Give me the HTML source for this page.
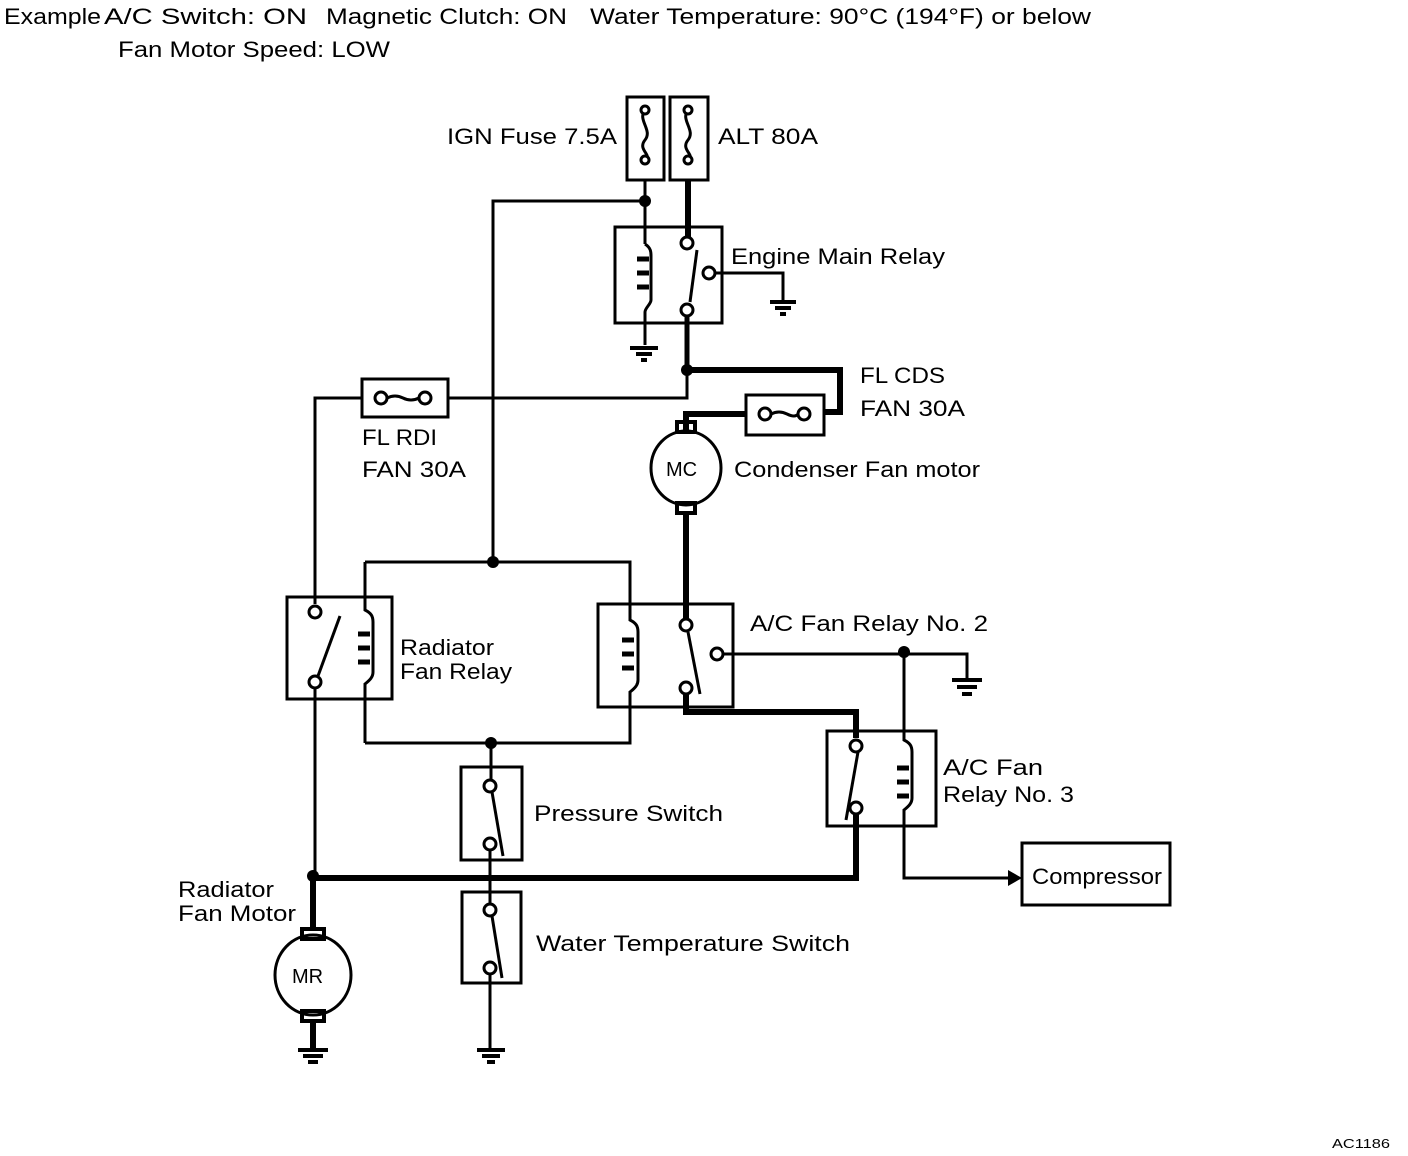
<!DOCTYPE html>
<html><head><style>
html,body{margin:0;padding:0;background:#fff;}
svg{display:block;}
text{font-family:"Liberation Sans",sans-serif;font-size:22px;fill:#000;}
</style></head><body>
<svg width="1408" height="1156" viewBox="0 0 1408 1156" xmlns="http://www.w3.org/2000/svg">
<g fill="none" stroke="#000" stroke-width="3">
<rect x="627" y="97" width="37" height="83"/>
<rect x="670" y="97" width="38" height="83"/>
<path d="M645 110 c-8 10 8 20 0 30 c-8 10 8 15 0 20"/>
<path d="M688 110 c-8 10 8 20 0 30 c-8 10 8 15 0 20"/>
<circle cx="645" cy="110" r="4" fill="#fff"/><circle cx="645" cy="160" r="4" fill="#fff"/>
<circle cx="688" cy="110" r="4" fill="#fff"/><circle cx="688" cy="160" r="4" fill="#fff"/>
<path d="M645 180 V244"/>
<path d="M645 201 H493 V562"/>
<path d="M688 180 V243" stroke-width="6"/>
<rect x="615" y="227" width="107" height="96"/>
<path d="M645 244 c6 4 6 8 6 12 v44 c0 4 -6 8 -6 12 V345"/>
<path d="M637 259 h12 M637 273 h12 M637 287 h12" stroke-width="5"/>
<circle cx="687" cy="243" r="6" fill="#fff"/>
<circle cx="709" cy="273" r="6" fill="#fff"/>
<circle cx="687" cy="310" r="6" fill="#fff"/>
<path d="M697 250 L690 302"/>
<path d="M715 273 H783 V300"/>
<path d="M770 302 h26 M775 308 h16 M780 314 h6" stroke-width="4"/>
<path d="M630 348 h28 M636 354 h16 M641 360 h6" stroke-width="4"/>
<path d="M687 316 V370" stroke-width="5"/>
<path d="M687 370 H840 V412 H824" stroke-width="6"/>
<path d="M687 370 V398 H448"/>
<rect x="362" y="379" width="86" height="38"/>
<circle cx="381" cy="398" r="6" fill="#fff"/><circle cx="425" cy="398" r="6" fill="#fff"/>
<path d="M387 398 q8 -4 16 0 t16 0"/>
<path d="M362 398 H315 V604"/>
<rect x="746" y="395" width="78" height="40"/>
<circle cx="765" cy="414" r="6" fill="#fff"/><circle cx="804" cy="414" r="6" fill="#fff"/>
<path d="M771 414 q8 -4 16 0 t11 0"/>
<path d="M746 414 H686 V430" stroke-width="6"/>
<rect x="677" y="422" width="18" height="10" stroke-width="4"/>
<ellipse cx="686" cy="468" rx="35" ry="37"/>
<rect x="677" y="503" width="18" height="10" stroke-width="4"/>
<path d="M686 513 V619" stroke-width="6"/>
<rect x="287" y="597" width="105" height="102"/>
<circle cx="315" cy="612" r="6" fill="#fff"/>
<circle cx="315" cy="682" r="6" fill="#fff"/>
<path d="M340 616 L318 676"/>
<path d="M365 562 V610 c6 3 8 6 8 12 v50 c0 5 -3 8 -8 12 V743"/>
<path d="M358 634 h12 M358 648 h12 M358 662 h12" stroke-width="5"/>
<path d="M365 562 H630 V604"/>
<path d="M365 743 H630 V707"/>
<path d="M315 688 V876"/>
<rect x="598" y="604" width="135" height="103"/>
<path d="M630 604 V620 c6 3 8 6 8 12 v48 c0 5 -3 8 -8 12 V707"/>
<path d="M622 640 h12 M622 654 h12 M622 668 h12" stroke-width="5"/>
<circle cx="686" cy="625" r="6" fill="#fff"/>
<circle cx="717" cy="654" r="6" fill="#fff"/>
<circle cx="686" cy="688" r="6" fill="#fff"/>
<path d="M688 632 L700 694"/>
<path d="M723 654 H967 V678"/>
<path d="M952 680 h30 M957 687 h20 M962 694 h10" stroke-width="4"/>
<path d="M904 654 V740 c6 3 8 6 8 12 v46 c0 5 -3 8 -8 12 V878 H1010"/>
<path d="M897 768 h12 M897 782 h12 M897 796 h12" stroke-width="5"/>
<path d="M686 694 V712 H856 V738" stroke-width="6"/>
<rect x="827" y="731" width="109" height="95"/>
<circle cx="856" cy="746" r="6" fill="#fff"/>
<circle cx="856" cy="808" r="6" fill="#fff"/>
<path d="M858 752 L846 820"/>
<path d="M856 814 V878 H313" stroke-width="6"/>
<rect x="1022" y="843" width="148" height="62"/>
<path d="M491 743 V780"/>
<rect x="461" y="767" width="61" height="93"/>
<circle cx="490" cy="786" r="6" fill="#fff"/>
<circle cx="490" cy="844" r="6" fill="#fff"/>
<path d="M492 792 L503 856"/>
<path d="M490 850 V905"/>
<rect x="462" y="892" width="59" height="91"/>
<circle cx="490" cy="910" r="6" fill="#fff"/>
<circle cx="490" cy="968" r="6" fill="#fff"/>
<path d="M492 916 L502 978"/>
<path d="M490 974 V1048"/>
<path d="M477 1050 h28 M482 1056 h18 M487 1062 h8" stroke-width="4"/>
<path d="M313 878 V928" stroke-width="6"/>
<rect x="302" y="929" width="22" height="10" stroke-width="4"/>
<ellipse cx="313" cy="975" rx="38" ry="40"/>
<rect x="302" y="1011" width="22" height="10" stroke-width="4"/>
<path d="M313 1021 V1048" stroke-width="6"/>
<path d="M298 1050 h30 M303 1056 h20 M308 1062 h10" stroke-width="4"/>
</g>
<g fill="#000">
<circle cx="645" cy="201" r="6"/>
<circle cx="687" cy="370" r="6"/>
<circle cx="493" cy="562" r="6"/>
<circle cx="491" cy="743" r="6"/>
<circle cx="904" cy="652" r="6"/>
<circle cx="313" cy="876" r="6"/>
<polygon points="1008,870 1022,878 1008,886"/>
</g>
<g lengthAdjust="spacingAndGlyphs">
<text x="4" y="24" textLength="97" lengthAdjust="spacingAndGlyphs">Example</text>
<text x="104" y="24" textLength="203" lengthAdjust="spacingAndGlyphs">A/C Switch: ON</text>
<text x="326" y="24" textLength="241" lengthAdjust="spacingAndGlyphs">Magnetic Clutch: ON</text>
<text x="590" y="24" textLength="501" lengthAdjust="spacingAndGlyphs">Water Temperature: 90°C (194°F) or below</text>
<text x="118" y="57" textLength="272" lengthAdjust="spacingAndGlyphs">Fan Motor Speed: LOW</text>
<text x="447" y="144" textLength="170" lengthAdjust="spacingAndGlyphs">IGN Fuse 7.5A</text>
<text x="718" y="144" textLength="100" lengthAdjust="spacingAndGlyphs">ALT 80A</text>
<text x="731" y="264" textLength="214" lengthAdjust="spacingAndGlyphs">Engine Main Relay</text>
<text x="860" y="383" textLength="85" lengthAdjust="spacingAndGlyphs">FL CDS</text>
<text x="860" y="416" textLength="105" lengthAdjust="spacingAndGlyphs">FAN 30A</text>
<text x="362" y="445" textLength="75" lengthAdjust="spacingAndGlyphs">FL RDI</text>
<text x="362" y="477" textLength="104" lengthAdjust="spacingAndGlyphs">FAN 30A</text>
<text x="666" y="476" style="font-size:20px">MC</text>
<text x="734" y="477" textLength="246" lengthAdjust="spacingAndGlyphs">Condenser Fan motor</text>
<text x="400" y="655" textLength="94" lengthAdjust="spacingAndGlyphs">Radiator</text>
<text x="400" y="679" textLength="112" lengthAdjust="spacingAndGlyphs">Fan Relay</text>
<text x="750" y="631" textLength="238" lengthAdjust="spacingAndGlyphs">A/C Fan Relay No. 2</text>
<text x="943" y="775" textLength="100" lengthAdjust="spacingAndGlyphs">A/C Fan</text>
<text x="943" y="802" textLength="131" lengthAdjust="spacingAndGlyphs">Relay No. 3</text>
<text x="534" y="821" textLength="189" lengthAdjust="spacingAndGlyphs">Pressure Switch</text>
<text x="1032" y="884" textLength="130" lengthAdjust="spacingAndGlyphs">Compressor</text>
<text x="178" y="897" textLength="96" lengthAdjust="spacingAndGlyphs">Radiator</text>
<text x="178" y="921" textLength="118" lengthAdjust="spacingAndGlyphs">Fan Motor</text>
<text x="536" y="951" textLength="314" lengthAdjust="spacingAndGlyphs">Water Temperature Switch</text>
<text x="292" y="983" style="font-size:20px">MR</text>
<text x="1332" y="1148" style="font-size:13px" textLength="58" lengthAdjust="spacingAndGlyphs">AC1186</text>
</g>
</svg>
</body></html>
